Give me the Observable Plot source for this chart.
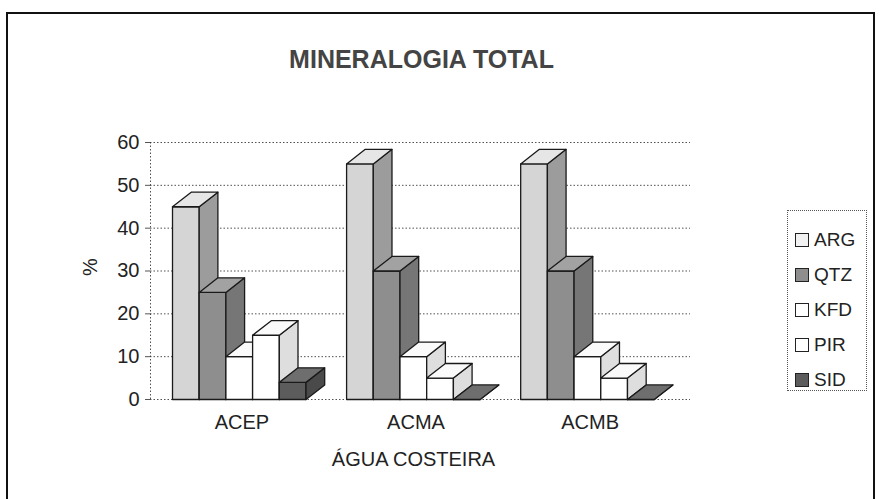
<!DOCTYPE html>
<html>
<head>
<meta charset="utf-8">
<script src="https://cdn.jsdelivr.net/npm/d3@7"></script>
<script src="https://cdn.jsdelivr.net/npm/@observablehq/plot@0.6"></script>
<style>
  body { margin: 0; background: #fff; }
  #wrap { position: relative; width: 880px; height: 499px; overflow: hidden; font-family: "Liberation Sans", Arial, sans-serif; color: #222; }
  #border { position: absolute; left: 6px; top: 12px; width: 869px; height: 500px; border: 2px solid #111; box-sizing: border-box; }
  #chart { position: absolute; left: 0; top: 0; }
  #legend { position: absolute; left: 787px; top: 210px; width: 80px; height: 181px; border: 1px dotted #555; box-sizing: border-box; padding-top: 11px; }
  .item { display: flex; align-items: center; height: 35px; padding-left: 7px; font-size: 19px; color: #222; }
  .sw { width: 12px; height: 12px; border: 1.5px solid #222; margin-right: 5px; box-sizing: content-box; }
</style>
</head>
<body>
<div id="wrap">
  <div id="border"></div>
  <div id="chart"></div>
  <div id="legend"></div>
</div>
<script>
// ---- data ----
const categories = ["ACEP", "ACMA", "ACMB"];
const series = ["ARG", "QTZ", "KFD", "PIR", "SID"];
const ARG = [45, 55, 55];
const QTZ = [25, 30, 30];
const KFD = [10, 10, 10];
const PIR = [15, 5, 5];
const SID = [4, 0, 0];
const yTicks = [0, 10, 20, 30, 40, 50, 60];
const chartTitle = "MINERALOGIA TOTAL";
const xTitle = "ÁGUA COSTEIRA";
const yTitle = "%";

// ---- styling ----
const values = {ARG, QTZ, KFD, PIR, SID};
const faceColors = {
  ARG: {front: "#d5d5d5", side: "#9c9c9c", top: "#e6e6e6", legend: "#f2f2f2"},
  QTZ: {front: "#8e8e8e", side: "#767676", top: "#a2a2a2", legend: "#8e8e8e"},
  KFD: {front: "#ffffff", side: "#dedede", top: "#fafafa", legend: "#ffffff"},
  PIR: {front: "#ffffff", side: "#dedede", top: "#fafafa", legend: "#ffffff"},
  SID: {front: "#5c5c5c", side: "#4a4a4a", top: "#6e6e6e", legend: "#5c5c5c"}
};
const groupStep = 6.52;     // x units between groups (bar width = 1)
const depthX = 0.7;         // 3D depth offset in x units
const depthY = 3.4;         // 3D depth offset in y units
const xDomain = [-0.824, 19.4];

// build face polygons (painter's order: left to right)
const faces = [];
categories.forEach((c, g) => {
  series.forEach((s, j) => {
    const v = values[s][g];
    const x0 = g * groupStep + j, x1 = x0 + 1;
    const col = faceColors[s];
    const add = (name, pts, fill) => pts.forEach(([x, y]) => faces.push({id: `${c}-${s}-${name}`, x, y, fill}));
    add("front", [[x0, 0], [x1, 0], [x1, v], [x0, v], [x0, 0]], col.front);
    add("side", [[x1, 0], [x1 + depthX, depthY], [x1 + depthX, v + depthY], [x1, v], [x1, 0]], col.side);
    add("top", [[x0, v], [x1, v], [x1 + depthX, v + depthY], [x0 + depthX, v + depthY], [x0, v]], col.top);
  });
});

const font = "'Liberation Sans', Arial, sans-serif";
const chart = Plot.plot({
  width: 880,
  height: 499,
  marginLeft: 150,
  marginRight: 190,
  marginTop: 142,
  marginBottom: 100,
  x: {type: "linear", domain: xDomain, axis: null},
  y: {domain: [0, 60], axis: null},
  color: {type: "identity"},
  style: {fontFamily: font, background: "transparent", color: "#222"},
  marks: [
    Plot.gridY(yTicks, {stroke: "#333", strokeOpacity: 0.85, strokeDasharray: "1.5,2"}),
    Plot.ruleX([xDomain[0]], {stroke: "#333", strokeOpacity: 0.85, strokeDasharray: "1.5,2"}),
    Plot.axisY(yTicks, {tickSize: 5, tickPadding: 6, fontSize: 20, label: null, stroke: "#555", tickFormat: d => String(d)}),
    Plot.line(faces, {x: "x", y: "y", z: "id", fill: "fill", stroke: "#1a1a1a", strokeWidth: 1.3, strokeLinejoin: "round", curve: "linear"}),
    Plot.text(categories, {x: (d, i) => i * groupStep + 2.6, y: 0, dy: 23, lineAnchor: "middle", text: d => d, fontSize: 20, fill: "#222"}),
    Plot.text([yTitle], {frameAnchor: "left", dx: -60, dy: 5, rotate: -90, lineAnchor: "middle", text: d => d, fontSize: 20, fill: "#222"}),
    Plot.text([xTitle], {frameAnchor: "bottom", dx: -7, dy: 60, lineAnchor: "middle", text: d => d, fontSize: 20, fill: "#222"}),
    Plot.text([chartTitle], {frameAnchor: "top", dx: 1, dy: -83, lineAnchor: "middle", text: d => d, fontSize: 25, fontWeight: "bold", fill: "#444"})
  ]
});
document.getElementById("chart").appendChild(chart);

// legend
const legend = document.getElementById("legend");
series.forEach(s => {
  const item = document.createElement("div");
  item.className = "item";
  const sw = document.createElement("span");
  sw.className = "sw";
  sw.style.background = faceColors[s].legend;
  const label = document.createElement("span");
  label.textContent = s;
  item.appendChild(sw);
  item.appendChild(label);
  legend.appendChild(item);
});
</script>
</body>
</html>
